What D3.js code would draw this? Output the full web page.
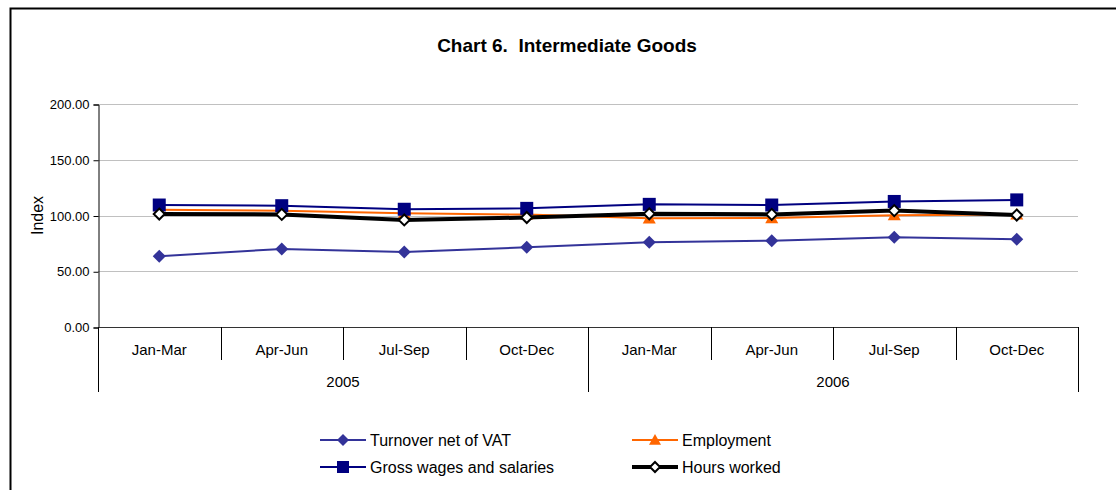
<!DOCTYPE html>
<html>
<head>
<meta charset="utf-8">
<script src="https://cdn.jsdelivr.net/npm/d3@7"></script>
<style>
  body { margin: 0; background: #fff; }
  svg { display: block; font-family: "Liberation Sans", Arial, sans-serif; }
</style>
</head>
<body>
<svg id="chart" width="1116" height="490"></svg>
<script>
// quarters and years of the two-level category axis
const quarters = ["Jan-Mar", "Apr-Jun", "Jul-Sep", "Oct-Dec", "Jan-Mar", "Apr-Jun", "Jul-Sep", "Oct-Dec"];
const years = ["2005", "2006"];
const yTicks = [0, 50, 100, 150, 200];

// index values
const turnover = [63.5, 70.0, 67.3, 71.5, 76.0, 77.4, 80.4, 78.6];
const employment = [105.2, 104.3, 102.0, 100.8, 97.5, 97.8, 100.3, 101.0];
const wages = [109.4, 108.8, 105.6, 106.4, 110.0, 109.4, 112.6, 114.0];
const hours = [101.3, 101.0, 96.0, 98.2, 101.5, 101.0, 104.4, 100.4];

const series = [
    {name: "Turnover net of VAT", values: turnover, color: "#333399", width: 2, marker: "diamond", fill: "#333399", size: 13, stroke: "none"},
    {name: "Employment", values: employment, color: "#FF6600", width: 2, marker: "triangle", fill: "#FF6600", size: 13, stroke: "none"},
    {name: "Gross wages and salaries", values: wages, color: "#000080", width: 2, marker: "square", fill: "#000080", size: 13, stroke: "none"},
    {name: "Hours worked", values: hours, color: "#000000", width: 4, marker: "diamond", fill: "#ffffff", size: 11, stroke: "#000000"}
];

const svg = d3.select("#chart");

// outer frame, only left and top edges fall inside the window
svg.append("rect")
    .attr("x", 10.5).attr("y", 8.5)
    .attr("width", 1300).attr("height", 600)
    .attr("fill", "none").attr("stroke", "#000").attr("stroke-width", 2);

svg.append("text")
    .attr("x", 567).attr("y", 52)
    .attr("text-anchor", "middle")
    .attr("font-weight", "bold")
    .attr("font-size", 19)
    .style("white-space", "pre")
    .text("Chart 6.  Intermediate Goods");

const plotLeft = 98, plotRight = 1078, plotTop = 104, zero = 327;

const x = d3.scaleBand()
    .domain(d3.range(quarters.length))
    .range([plotLeft, plotRight]);

const y = d3.scaleLinear()
    .domain([0, 200])
    .range([zero, plotTop]);

// gridlines
svg.append("g")
    .selectAll("line")
    .data(yTicks.filter(d => d > 0))
    .join("line")
    .attr("x1", plotLeft).attr("x2", plotRight)
    .attr("y1", d => Math.round(y(d)) + 0.5).attr("y2", d => Math.round(y(d)) + 0.5)
    .attr("stroke", "#c0c0c0").attr("stroke-width", 1);

// y axis
const yAxis = svg.append("g")
    .attr("transform", `translate(${plotLeft + 0.5},0.5)`)
    .call(d3.axisLeft(y).tickValues(yTicks).tickSize(5).tickFormat(d3.format(".2f")));
yAxis.select(".domain").attr("stroke", "#000");
yAxis.selectAll(".tick line").attr("stroke", "#000");
yAxis.selectAll("text")
    .attr("font-family", "Liberation Sans, Arial, sans-serif")
    .attr("font-size", 13).attr("fill", "#000").attr("x", -9);

svg.append("text")
    .attr("transform", `translate(43,${(plotTop + zero) / 2})rotate(-90)`)
    .attr("text-anchor", "middle")
    .attr("font-size", 16)
    .text("Index");

// category axis (two levels)
const xa = svg.append("g");
xa.append("line")
    .attr("x1", plotLeft).attr("x2", plotRight)
    .attr("y1", zero + 0.5).attr("y2", zero + 0.5)
    .attr("stroke", "#333").attr("stroke-width", 1.2);

const bounds = d3.range(quarters.length + 1);
xa.selectAll("line.tick")
    .data(bounds)
    .join("line")
    .attr("class", "tick")
    .attr("x1", i => Math.round(plotLeft + i * x.step()) + 0.5)
    .attr("x2", i => Math.round(plotLeft + i * x.step()) + 0.5)
    .attr("y1", zero)
    .attr("y2", i => i % 4 === 0 ? 392 : 360)
    .attr("stroke", "#000");

xa.selectAll("text.q")
    .data(quarters)
    .join("text")
    .attr("class", "q")
    .attr("x", (d, i) => x(i) + x.bandwidth() / 2)
    .attr("y", 355)
    .attr("text-anchor", "middle")
    .attr("font-size", 15)
    .text(d => d);

xa.selectAll("text.yr")
    .data(years)
    .join("text")
    .attr("class", "yr")
    .attr("x", (d, i) => x(i * 4) + x.step() * 2)
    .attr("y", 387)
    .attr("text-anchor", "middle")
    .attr("font-size", 15)
    .text(d => d);

// marker shapes
const markerPath = (type, s) => {
    const h = s / 2;
    if (type === "diamond") return `M0,${-h}L${h},0L0,${h}L${-h},0Z`;
    if (type === "square") return `M${-h},${-h}H${h}V${h}H${-h}Z`;
    return `M0,${-h}L${h},${h * 0.8}L${-h},${h * 0.8}Z`;
};

const line = d3.line()
    .x((d, i) => x(i) + x.bandwidth() / 2)
    .y(d => y(d));

const plot = svg.append("g");
series.forEach(s => {
    const g = plot.append("g");
    g.append("path")
        .datum(s.values)
        .attr("d", line)
        .attr("fill", "none")
        .attr("stroke", s.color)
        .attr("stroke-width", s.width);
    g.selectAll("path.m")
        .data(s.values)
        .join("path")
        .attr("class", "m")
        .attr("transform", (d, i) => `translate(${x(i) + x.bandwidth() / 2},${y(d)})`)
        .attr("d", markerPath(s.marker, s.size))
        .attr("fill", s.fill)
        .attr("stroke", s.stroke)
        .attr("stroke-width", s.stroke === "none" ? 0 : 2);
});

// legend
const legendPos = [[320, 440], [632, 440], [320, 467], [632, 467]];
const legend = svg.append("g");
series.forEach((s, i) => {
    const [lx, ly] = legendPos[i];
    const g = legend.append("g").attr("transform", `translate(${lx},${ly})`);
    g.append("line")
        .attr("x1", 0).attr("x2", 46)
        .attr("y1", 0).attr("y2", 0)
        .attr("stroke", s.color).attr("stroke-width", s.width);
    g.append("path")
        .attr("transform", "translate(23,0)")
        .attr("d", markerPath(s.marker, s.marker === "diamond" && s.stroke !== "none" ? 10 : 12))
        .attr("fill", s.fill)
        .attr("stroke", s.stroke)
        .attr("stroke-width", s.stroke === "none" ? 0 : 2);
    g.append("text")
        .attr("x", 50).attr("y", 0)
        .attr("dy", "0.35em")
        .attr("font-size", 16)
        .text(s.name);
});
</script>
</body>
</html>
